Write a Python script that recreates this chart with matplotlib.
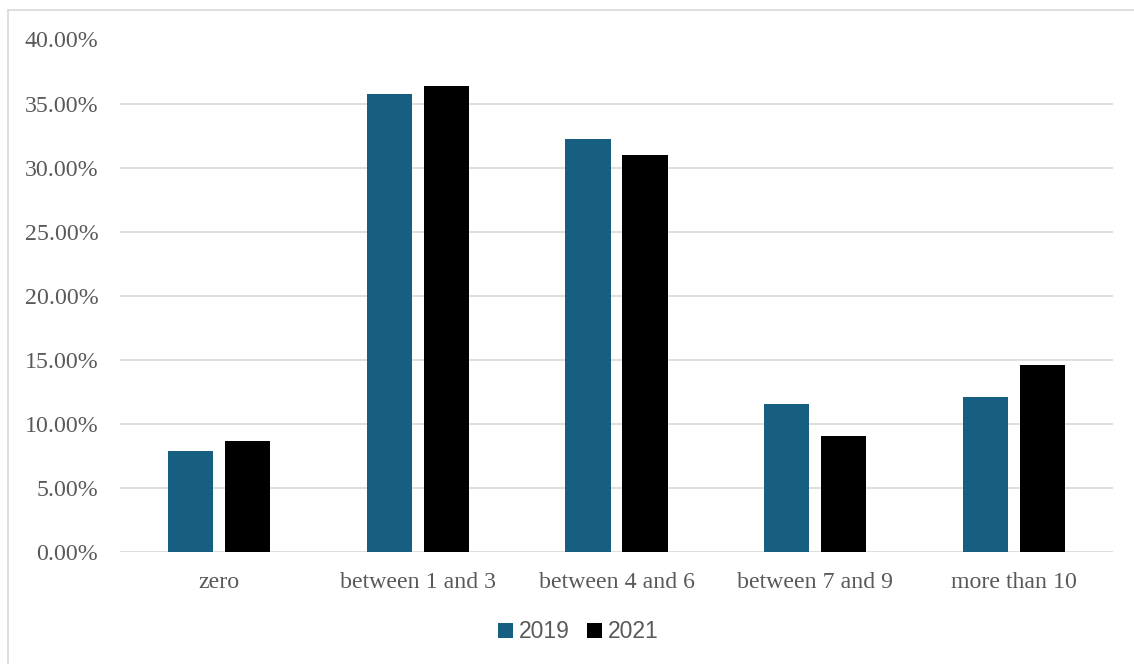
import matplotlib
matplotlib.use("Agg")
import matplotlib.pyplot as plt
from matplotlib.lines import Line2D
from matplotlib.ticker import FuncFormatter
import numpy as np

categories = ["zero", "between 1 and 3", "between 4 and 6", "between 7 and 9", "more than 10"]
series_names = ["2019", "2021"]
values_2019 = [7.90, 35.75, 32.25, 11.57, 12.14]
values_2021 = [8.68, 36.40, 31.00, 9.07, 14.61]
colors = ["#175F81", "#000000"]

fig = plt.figure(figsize=(11.34, 6.64), dpi=100)
# outer frame (top and left edges visible only)
fig.add_artist(Line2D([7.5 / 1134, 7.5 / 1134], [0, 1 - 10 / 664], transform=fig.transFigure,
                      color="#d9d9d9", linewidth=1.2))
fig.add_artist(Line2D([7.5 / 1134, 1], [1 - 10 / 664, 1 - 10 / 664], transform=fig.transFigure,
                      color="#d9d9d9", linewidth=1.2))
ax = fig.add_axes([120 / 1134, 1 - 552.3 / 664, (1113 - 120) / 1134, (552.3 - 39.5) / 664])

x = np.arange(len(categories))
w = 0.227
off = 0.287 / 2
ax.bar(x - off, np.array(values_2019) / 100, width=w, color=colors[0], label=series_names[0], zorder=3)
ax.bar(x + off, np.array(values_2021) / 100, width=w, color=colors[1], label=series_names[1], zorder=3)

ax.set_xlim(-0.5, len(categories) - 0.5)
ax.set_ylim(0, 0.40)
ax.set_yticks(np.arange(0, 0.401, 0.05))
ax.yaxis.set_major_formatter(FuncFormatter(lambda v, p: f"{v*100:.2f}%"))
ax.set_xticks(x)
ax.set_xticklabels(categories)
ax.grid(axis="y", color="#d9d9d9", linewidth=1.2, zorder=0)
for s in ax.spines.values():
    s.set_visible(False)
ax.tick_params(axis="both", length=0, colors="#595959", labelsize=17.2)
ax.tick_params(axis="x", pad=14.5)
ax.tick_params(axis="y", pad=15.6)
for lab in ax.get_xticklabels() + ax.get_yticklabels():
    lab.set_fontfamily("Liberation Serif")
    lab.set_color("#595959")

leg = fig.legend(loc="center", bbox_to_anchor=(578.5 / 1134, 1 - 632 / 664), ncol=2, frameon=False,
                 prop={"family": "Liberation Sans", "size": 16.5}, handlelength=0.65, handleheight=0.65,
                 handletextpad=0.25, columnspacing=0.75)
for t in leg.get_texts():
    t.set_color("#595959")

fig.savefig("out.png", dpi=100)
